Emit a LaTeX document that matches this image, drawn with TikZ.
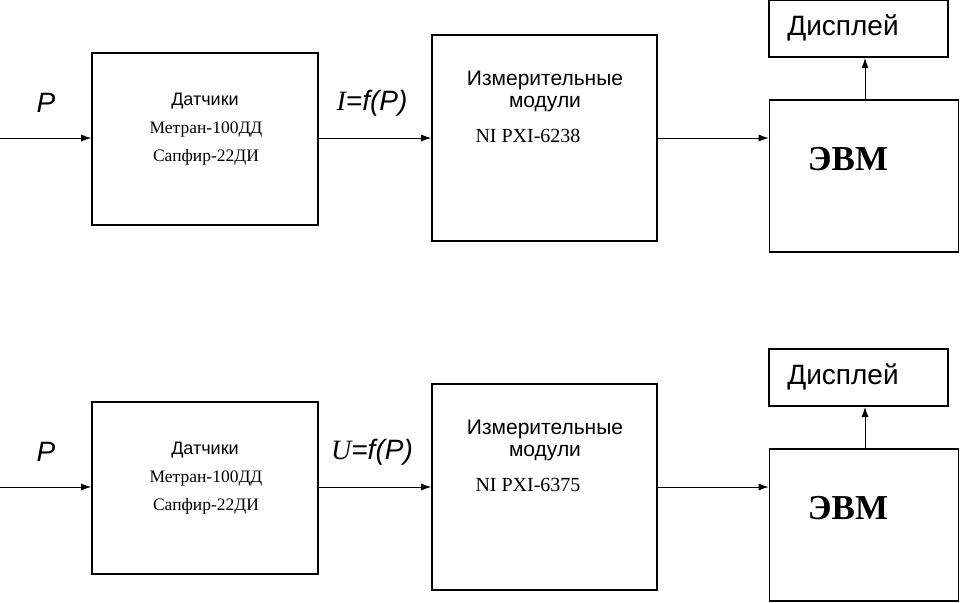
\documentclass[tikz,border=0pt]{standalone}
\usepackage{fontspec}
\setmainfont{Liberation Serif}
\newfontfamily\sansf{Liberation Sans}
\usetikzlibrary{arrows.meta}
\begin{document}
\begin{tikzpicture}[x=1pt,y=-1pt,
  blk/.style={draw,line width=1.6pt,inner sep=0pt},
  conn/.style={-{Latex[length=10pt,width=7pt]},line width=0.9pt},
  sl/.style={font=\sansf\fontsize{18}{18}\selectfont},
  rl/.style={font=\fontsize{17.5}{17.5}\selectfont},
  lab/.style={font=\sansf\itshape\fontsize{28}{28}\selectfont}]
\useasboundingbox (0,0) rectangle (960,602);
\foreach \r/\dy/\mod/\sig in {a/0/6238/I,b/349/6375/U}{
  \begin{scope}[yshift=-\dy]
  \node[blk,minimum width=226,minimum height=172] (s\r) at (205,139) {};
  \node[blk,minimum width=225,minimum height=206] (m\r) at (544.5,138) {};
  \node[blk,minimum width=189,minimum height=152] (e\r) at (864,176) {};
  \node[blk,minimum width=179,minimum height=57] (d\r) at (858.5,28.5) {};
  \coordinate (in\r) at (0,138);
  \node[sl] at (205,101) {Датчики};
  \node[rl] at (206,130) {Метран-100ДД};
  \node[rl] at (206,157) {Сапфир-22ДИ};
  \node[sl,font=\sansf\fontsize{21}{21}\selectfont] at (545,80) {Измерительные};
  \node[sl,font=\sansf\fontsize{21}{21}\selectfont] at (545,104) {модули};
  \node[rl,font=\fontsize{20}{20}\selectfont] at (528,136) {NI PXI-\mod};
  \node[font=\bfseries\fontsize{35}{35}\selectfont] at (848,159) {ЭВМ};
  \node[sl,font=\sansf\fontsize{28}{28}\selectfont] at (843,28) {Дисплей};
  \node[lab] at (46,103) {P};
  \node[lab] at (372,103) {{\rmfamily\itshape\sig}=f(P)};
  \draw[conn] (in\r) -- (in\r -| s\r.west);
  \draw[conn] (s\r.east |- in\r) -- (in\r -| m\r.west);
  \draw[conn] (m\r.east |- in\r) -- (in\r -| e\r.west);
  \draw[conn] (865,100) -- (865,58);
  \end{scope}}
\end{tikzpicture}
\end{document}
